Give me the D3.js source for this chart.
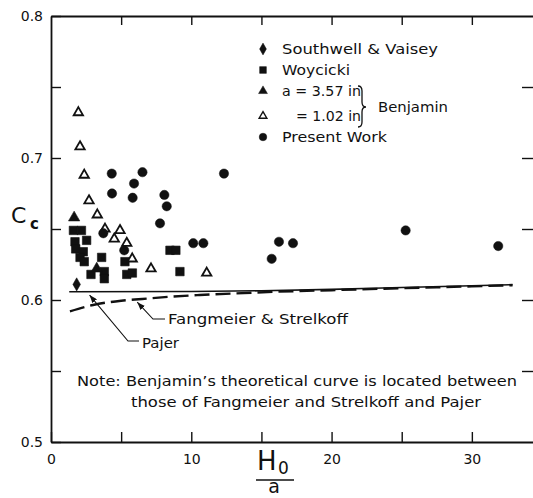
<!DOCTYPE html>
<html><head><meta charset="utf-8">
<script src="https://cdn.jsdelivr.net/npm/d3@7"></script>
<style>
body{margin:0;background:#fff;}
svg{display:block;}
text{font-family:"DejaVu Sans",sans-serif;fill:#111;}
</style>
</head><body>
<svg id="c" width="533" height="498"></svg>
<script>
// ---- data ----
const xTicks = [0, 5, 10, 15, 20, 25, 30];
const xTickLabels = [0, 10, 20, 30];
const yTicks = [0.5, 0.55, 0.6, 0.65, 0.7, 0.75, 0.8];
const yTickLabels = [0.5, 0.6, 0.7, 0.8];

const southwellVaisey = [[1.83, 0.611]];
const woycicki = [
  [1.6, 0.649], [2.17, 0.649], [1.71, 0.641], [2.54, 0.642], [1.76, 0.636],
  [2.3, 0.634], [2.07, 0.630], [2.37, 0.627], [3.61, 0.630], [2.85, 0.618],
  [3.8, 0.620], [3.8, 0.615], [5.27, 0.627], [5.4, 0.618], [5.8, 0.619],
  [8.48, 0.635], [8.9, 0.635], [9.19, 0.620]
];
const benjamin357 = [[1.65, 0.658], [3.26, 0.622]];
const benjamin102 = [
  [1.95, 0.732], [2.07, 0.708], [2.37, 0.688], [2.71, 0.670], [3.3, 0.660],
  [3.85, 0.650], [4.92, 0.649], [4.51, 0.643], [5.4, 0.640], [5.79, 0.629],
  [7.13, 0.622], [11.1, 0.619]
];
const presentWork = [
  [4.33, 0.689], [6.52, 0.690], [5.92, 0.682], [4.35, 0.675], [5.82, 0.672],
  [8.08, 0.674], [8.25, 0.666], [7.77, 0.654], [3.73, 0.647], [5.22, 0.635],
  [10.14, 0.640], [10.86, 0.640], [12.33, 0.689], [15.73, 0.629], [16.25, 0.641],
  [17.25, 0.640], [25.28, 0.649], [31.88, 0.638]
];
const pajerX = [1.3, 10, 15, 20, 25, 30, 32.9];
const pajerY = [0.6058, 0.606, 0.6065, 0.6075, 0.6088, 0.610, 0.6108];
const fangX = [1.35, 3, 5, 6.5, 8.5, 10.6, 13, 16, 20, 25, 30, 32.9];
const fangY = [0.592, 0.5965, 0.5995, 0.6007, 0.6023, 0.6035, 0.6046, 0.6058, 0.6069, 0.6083, 0.6096, 0.6104];

const legendLabels = ["Southwell & Vaisey", "Woycicki", "a = 3.57 in", "= 1.02 in", "Present Work"];
const bracketLabel = "Benjamin";
const curveLabels = ["Fangmeier & Strelkoff", "Pajer"];
const noteLines = ["Note: Benjamin\u2019s theoretical curve is located between",
                   "those of Fangmeier and Strelkoff and Pajer"];

// ---- chart ----
const svg = d3.select("#c");
const x = d3.scaleLinear().domain([0, 35]).range([51, 542]);
const y = d3.scaleLinear().domain([0.5, 0.8]).range([442, 16]);
const ink = "#111";

function styleAxis(g) {
  g.selectAll(".domain").attr("stroke", ink).attr("stroke-width", 1.8);
  g.selectAll(".tick line").attr("stroke", ink).attr("stroke-width", 1.4);
  g.selectAll("text").attr("fill", ink).attr("font-family", "DejaVu Sans, sans-serif");
}

// bottom
svg.append("g").attr("transform", `translate(0,${y(0.5)})`)
  .call(d3.axisBottom(x).tickValues(xTicks).tickSizeInner(-10).tickSizeOuter(0).tickPadding(12)
    .tickFormat(d => xTickLabels.includes(d) ? d : ""))
  .call(g => g.selectAll("text").attr("font-size", 14))
  .call(styleAxis);
// top
svg.append("g").attr("transform", `translate(0,${y(0.8)})`)
  .call(d3.axisTop(x).tickValues(xTicks.slice(1)).tickSizeInner(-9).tickSizeOuter(0).tickFormat(""))
  .call(styleAxis);
// left
svg.append("g").attr("transform", `translate(${x(0)},0)`)
  .call(d3.axisLeft(y).tickValues(yTicks).tickSizeInner(-10).tickSizeOuter(0).tickPadding(8)
    .tickFormat(d => yTickLabels.some(v => Math.abs(v - d) < 1e-9) ? d3.format(".1f")(d) : ""))
  .call(g => g.selectAll("text").attr("font-size", 14))
  .call(styleAxis);
// right (frame just beyond the picture edge)
svg.append("g").attr("transform", `translate(535,0)`)
  .call(d3.axisRight(y).tickValues(yTicks.slice(1, -1)).tickSizeInner(-13).tickSizeOuter(0).tickFormat(""))
  .call(styleAxis);

// curves
const pajer = pajerX.map((v, i) => [v, pajerY[i]]);
const fang = fangX.map((v, i) => [v, fangY[i]]);
const line = d3.line().x(d => x(d[0])).y(d => y(d[1])).curve(d3.curveMonotoneX);
svg.append("path").attr("d", line(pajer)).attr("fill", "none").attr("stroke", ink).attr("stroke-width", 1.6);
svg.append("path").attr("d", line(fang)).attr("fill", "none").attr("stroke", ink)
  .attr("stroke-width", 2.4).attr("stroke-dasharray", "15,6");

// markers
const sym = (type, size) => d3.symbol().type(type).size(size);
function drawPts(data, type, size, fill, sw) {
  svg.append("g").selectAll("path").data(data).join("path")
    .attr("transform", d => `translate(${x(d[0])},${y(d[1])})`)
    .attr("d", sym(type, size)())
    .attr("fill", fill).attr("stroke", ink).attr("stroke-width", sw);
}
drawPts(woycicki, d3.symbolSquare, 72, ink, 0.6);
drawPts(benjamin102, d3.symbolTriangle, 38, "#fff", 1.8);
drawPts(benjamin357, d3.symbolTriangle, 55, ink, 0.6);
drawPts(presentWork, d3.symbolCircle, 68, ink, 0.5);
drawPts(southwellVaisey, d3.symbolDiamond, 50, ink, 0.5);

// legend
const legX = 263;
const legRows = [
  {t: legendLabels[0], type: d3.symbolDiamond, size: 40, fill: ink, sw: 0.5, y: 49, tx: 282, tl: 156},
  {t: legendLabels[1], type: d3.symbolSquare, size: 45, fill: ink, sw: 0.5, y: 70, tx: 282, tl: 68},
  {t: legendLabels[2], type: d3.symbolTriangle, size: 34, fill: ink, sw: 0.5, y: 91, tx: 282, tl: 79},
  {t: legendLabels[3], type: d3.symbolTriangle, size: 26, fill: "#fff", sw: 1.4, y: 116, tx: 296, tl: 65},
  {t: legendLabels[4], type: d3.symbolCircle, size: 45, fill: ink, sw: 0.5, y: 137, tx: 282, tl: 105}
];
const leg = svg.append("g");
legRows.forEach(r => {
  leg.append("path").attr("transform", `translate(${legX},${r.y})`).attr("d", sym(r.type, r.size)())
    .attr("fill", r.fill).attr("stroke", ink).attr("stroke-width", r.sw);
  leg.append("text").attr("x", r.tx).attr("y", r.y + 5).attr("font-size", 14)
    .attr("textLength", r.tl).attr("lengthAdjust", "spacingAndGlyphs").text(r.t);
});
leg.append("path")
  .attr("d", "M358,86 Q362,86 362,91 L362,102 Q362,107 366,107 Q362,107 362,112 L362,122 Q362,127 358,127")
  .attr("fill", "none").attr("stroke", ink).attr("stroke-width", 1.3);
leg.append("text").attr("x", 378).attr("y", 112).attr("font-size", 14)
  .attr("textLength", 70).attr("lengthAdjust", "spacingAndGlyphs").text(bracketLabel);

// annotations
svg.append("defs").append("marker").attr("id", "ah").attr("viewBox", "0 0 8 6")
  .attr("refX", 8).attr("refY", 3).attr("markerWidth", 8).attr("markerHeight", 6)
  .attr("markerUnits", "userSpaceOnUse").attr("orient", "auto")
  .append("path").attr("d", "M0,0 L8,3 L0,6 z").attr("fill", ink);

const fTip = [x(6.15), y(0.5985)];
svg.append("path").attr("d", `M165,319 L153,319 L${fTip[0]},${fTip[1]}`)
  .attr("fill", "none").attr("stroke", ink).attr("stroke-width", 1.1).attr("marker-end", "url(#ah)");
svg.append("text").attr("x", 168).attr("y", 324).attr("font-size", 14)
  .attr("textLength", 180).attr("lengthAdjust", "spacingAndGlyphs").text(curveLabels[0]);

const pTip = [x(2.75), y(0.6035)];
svg.append("path").attr("d", `M139,341 L128,341 L${pTip[0]},${pTip[1]}`)
  .attr("fill", "none").attr("stroke", ink).attr("stroke-width", 1.1).attr("marker-end", "url(#ah)");
svg.append("text").attr("x", 142).attr("y", 348).attr("font-size", 14)
  .attr("textLength", 37).attr("lengthAdjust", "spacingAndGlyphs").text(curveLabels[1]);

svg.append("text").attr("x", 77).attr("y", 386).attr("font-size", 14)
  .attr("textLength", 440).attr("lengthAdjust", "spacingAndGlyphs").text(noteLines[0]);
svg.append("text").attr("x", 131).attr("y", 407).attr("font-size", 14)
  .attr("textLength", 350).attr("lengthAdjust", "spacingAndGlyphs").text(noteLines[1]);

// axis titles
svg.append("text").attr("x", 11).attr("y", 223).attr("font-size", 22).text("C");
svg.append("text").attr("x", 30).attr("y", 229).attr("font-size", 15).attr("font-weight", "bold").text("c");

svg.append("text").attr("x", 257).attr("y", 470).attr("font-size", 26).text("H");
svg.append("text").attr("x", 278).attr("y", 474).attr("font-size", 17).text("0");
svg.append("line").attr("x1", 256).attr("x2", 294).attr("y1", 480).attr("y2", 480)
  .attr("stroke", ink).attr("stroke-width", 1.6);
svg.append("text").attr("x", 274).attr("y", 493).attr("font-size", 19).attr("text-anchor", "middle").text("a");
</script>
</body></html>
